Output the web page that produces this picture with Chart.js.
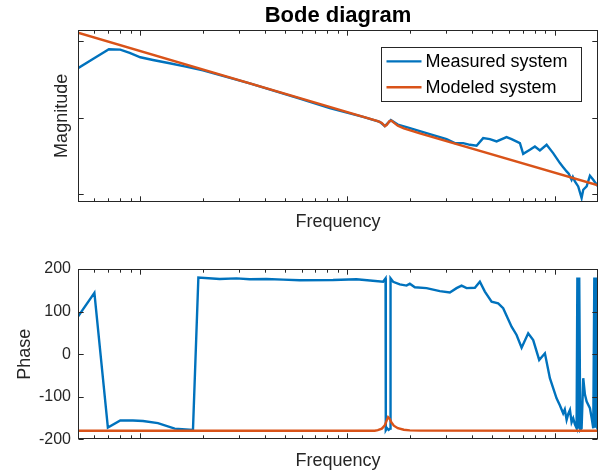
<!DOCTYPE html>
<html>
<head>
<meta charset="utf-8">
<script src="https://cdn.jsdelivr.net/npm/chart.js@4.4.1/dist/chart.umd.min.js"></script>
<style>
  html, body { margin: 0; padding: 0; background: #fff; }
  #wrap { position: relative; width: 600px; height: 472px; }
  #magCanvas { position: absolute; left: 0; top: 0; }
  #phaseCanvas { position: absolute; left: 0; top: 240px; }
</style>
</head>
<body>
<div id="wrap">
  <canvas id="magCanvas" width="600" height="240"></canvas>
  <canvas id="phaseCanvas" width="600" height="232"></canvas>
</div>
<script>
// ---------------- data ----------------
const seriesNames = ['Measured system', 'Modeled system'];
const chartTitle = 'Bode diagram';
const xLabel = 'Frequency';
const magLabel = 'Magnitude';
const phaseLabel = 'Phase';

// Measured magnitude
const magMeasFreq = [0.5, 0.601, 0.705, 0.8, 0.888, 1.0, 1.15, 1.385, 1.637, 2.006, 3.373, 5.88, 8.21, 11.9, 14.32, 15.15, 16.19, 17.5, 19.28, 24.98, 30.08, 33.0, 36.19, 39.02, 42.0, 45.2, 48.7, 52.47, 58.62, 61.98, 68.0, 70.53, 75.98, 80.33, 84.92, 91.5, 98.4, 106.1, 110.0, 114.3, 117.0, 120.8, 122.5, 125.3, 130.0, 135.0, 137.5, 142.8, 148.1, 153.7, 159.6, 162.0];
const magMeasVals = [0.4406, 0.6003, 0.7794, 0.770, 0.6975, 0.613, 0.565, 0.512, 0.465, 0.4124, 0.2792, 0.1764, 0.1326, 0.1021, 0.0879, 0.0772, 0.0925, 0.0808, 0.0749, 0.0608, 0.0523, 0.0464, 0.0464, 0.04406, 0.04276, 0.0539, 0.0523, 0.0487, 0.0555, 0.0523, 0.0464, 0.0336, 0.0379, 0.0419, 0.0371, 0.0441, 0.0343, 0.0254, 0.0225, 0.0198, 0.0185, 0.0154, 0.0168, 0.01464, 0.0126, 0.0089, 0.01141, 0.0126, 0.01738, 0.0154, 0.01326, 0.01395];

// Modeled magnitude
const magModelFreq = [0.5, 14.01, 14.65, 15.15, 15.49, 15.92, 16.28, 16.74, 17.5, 18.71, 22.36, 162.0];
const magModelVals = [1.283, 0.0897, 0.0848, 0.0772, 0.0803, 0.0892, 0.0914, 0.0858, 0.0784, 0.0723, 0.0622, 0.01306];

// Measured phase
const phaseMeasFreq = [0.5, 0.6, 0.697, 0.8, 0.921, 1.03, 1.216, 1.465, 1.795, 1.906, 2.416, 2.91, 3.373, 4.06, 4.886, 5.88, 8.52, 11.05, 14.86, 15.27, 15.31, 15.54, 15.8, 16.08, 16.14, 16.61, 17.89, 19.28, 20.0, 21.14, 24.08, 27.92, 31.21, 33.62, 35.54, 37.58, 41.21, 43.57, 46.06, 49.63, 53.41, 56.45, 61.98, 65.53, 69.29, 74.56, 78.82, 84.26, 89.77, 94.9, 102.2, 106.0, 110.0, 112.0, 114.3, 116.5, 118.6, 120.8, 123.0, 125.3, 127.7, 128.8, 129.9, 131.5, 133.0, 135.0, 137.5, 140.1, 142.8, 148.1, 151.0, 153.7, 155.5, 157.0, 158.3, 159.6, 162.0];
const phaseMeasVals = [88, 144, -172.6, -156, -156, -157, -162, -175, -178, 180, 176.6, 178, 176, 176.6, 175, 173.5, 174, 176, 170, 178, -179, -174, -178, -175, 178, 170, 164, 161, 165.5, 157, 155, 148, 145, 155, 161, 155, 156, 170, 147, 123, 119.5, 108, 64.6, 45, 15, 49, 33, -13.6, 2, -56.6, -103.6, -120, -139, -130, -154.5, -140, -131, -160, -150.5, -165, -174, 180, -175, 180, -178, -174, -56.6, -95, -111.5, -127, -150, -174, 180, -170, 180, -170, -178];

// Modeled phase
const phaseModelFreq = [0.5, 13.55, 14.01, 14.65, 15.15, 15.49, 15.71, 16.01, 16.28, 16.74, 17.5, 18.71, 20.0, 22.36, 162.0];
const phaseModelVals = [-180, -180, -178.5, -175, -167, -155, -148, -152, -160, -168, -174, -177.5, -179, -179.7, -180];

// Axis ranges and tick positions
const freqRange = [0.5, 162];
const magRange = [0.00796, 1.391];
const phaseRange = [-200, 200];
const xMajorTicks = [1, 10, 100];
const xMinorTicks = [0.6, 0.7, 0.8, 0.9, 2, 3, 4, 5, 6, 7, 8, 9, 20, 30, 40, 50, 60, 70, 80, 90];
const magTicks = [0.01, 0.1, 1];
const phaseTicks = [-200, -100, 0, 100, 200];

// ---------------- styling ----------------
const BLUE = '#0072BD';
const ORANGE = '#D95319';
const AXIS = '#262626';
const FONT = '"Liberation Sans", Arial, Helvetica, sans-serif';
Chart.defaults.font.family = FONT;

function pairs(xs, ys) { return xs.map((x, i) => ({ x: x, y: ys[i] })); }

// MATLAB-style box with inward ticks on all four sides
const matlabAxes = {
  id: 'matlabAxes',
  afterDatasetsDraw(chart, args, o) {
    const ctx = chart.ctx, a = chart.chartArea;
    const xs = chart.scales.x, ys = chart.scales.y;
    const L = Math.round(a.left) + 0.5, R = Math.round(a.right) - 0.5;
    const T = Math.round(a.top) + 0.5, B = Math.round(a.bottom) - 0.5;
    ctx.save();
    ctx.strokeStyle = AXIS;
    ctx.lineWidth = 1;
    ctx.beginPath();
    const vTick = (v, len) => {
      const p = Math.round(xs.getPixelForValue(v)) + 0.5;
      if (p < L || p > R) return;
      ctx.moveTo(p, B); ctx.lineTo(p, B - len);
      ctx.moveTo(p, T); ctx.lineTo(p, T + len);
    };
    o.xMajor.forEach(v => vTick(v, 5.2));
    o.xMinor.forEach(v => vTick(v, 3.2));
    o.yTicks.forEach(v => {
      const p = Math.round(ys.getPixelForValue(v)) + 0.5;
      ctx.moveTo(L, p); ctx.lineTo(L + 5.2, p);
      ctx.moveTo(R, p); ctx.lineTo(R - 5.2, p);
    });
    ctx.stroke();
    ctx.strokeRect(L, T, R - L, B - T);
    ctx.restore();
  }
};

// Boxed legend inside the plot area (top-right), built from the datasets
const boxLegend = {
  id: 'boxLegend',
  afterDraw(chart, args, o) {
    if (!o.display) return;
    const ctx = chart.ctx, a = chart.chartArea;
    const ds = chart.data.datasets;
    ctx.save();
    ctx.font = '18px ' + FONT;
    let maxW = 0;
    ds.forEach(d => { maxW = Math.max(maxW, ctx.measureText(d.label).width); });
    const w = o.textOffset + maxW + o.padRight;
    const h = o.rowGap * ds.length + o.padV * 2;
    const x0 = Math.round(a.right - o.insetRight - w) + 0.5;
    const y0 = Math.round(a.top + o.insetTop) + 0.5;
    ctx.fillStyle = '#fff';
    ctx.fillRect(x0, y0, w, h);
    ctx.strokeStyle = AXIS;
    ctx.lineWidth = 1;
    ctx.strokeRect(x0, y0, Math.round(w), Math.round(h));
    ds.forEach((d, i) => {
      const cy = y0 + o.padV + o.rowGap * (i + 0.5);
      ctx.strokeStyle = d.borderColor;
      ctx.lineWidth = d.borderWidth;
      ctx.beginPath();
      ctx.moveTo(x0 + o.lineStart, cy);
      ctx.lineTo(x0 + o.lineStart + o.lineLen, cy);
      ctx.stroke();
      ctx.fillStyle = '#000';
      ctx.textBaseline = 'middle';
      ctx.textAlign = 'left';
      ctx.fillText(d.label, x0 + o.textOffset, cy + 1);
    });
    ctx.restore();
  }
};

const lineDs = (label, data, color, order) => ({
  label: label, data: data, borderColor: color, backgroundColor: color,
  borderWidth: 2.4, pointRadius: 0, tension: 0, fill: false, order: order
});

const hiddenGrid = { display: false, drawTicks: false };

// ---------------- magnitude chart ----------------
new Chart(document.getElementById('magCanvas'), {
  type: 'line',
  data: {
    datasets: [
      lineDs(seriesNames[0], pairs(magMeasFreq, magMeasVals), BLUE, 1),
      lineDs(seriesNames[1], pairs(magModelFreq, magModelVals), ORANGE, 0)
    ]
  },
  options: {
    responsive: false, animation: false, events: [],
    layout: { padding: { left: 0, right: 2, top: 0, bottom: 0 } },
    plugins: {
      legend: { display: false },
      tooltip: { enabled: false },
      title: {
        display: true, text: chartTitle, fullSize: false, color: '#000',
        font: { size: 22, weight: 'bold' }, padding: { top: 3, bottom: 0.6 }
      },
      matlabAxes: { xMajor: xMajorTicks, xMinor: xMinorTicks, yTicks: magTicks },
      boxLegend: {
        display: true, insetRight: 16.6, insetTop: 17.3, padV: 1, rowGap: 25.8,
        lineStart: 5, lineLen: 35, textOffset: 44, padRight: 14
      }
    },
    scales: {
      x: {
        type: 'logarithmic', min: freqRange[0], max: freqRange[1],
        ticks: { display: false }, grid: hiddenGrid, border: { display: false },
        title: { display: true, text: xLabel, color: AXIS, font: { size: 18 }, padding: { top: 0, bottom: 6.9 } },
        afterFit(s) { s.height = 38.3; }
      },
      y: {
        type: 'logarithmic', min: magRange[0], max: magRange[1],
        ticks: { display: false }, grid: hiddenGrid, border: { display: false },
        title: { display: true, text: magLabel, color: AXIS, font: { size: 18 }, padding: { top: 51.5, bottom: 0 } },
        afterFit(s) { s.width = 78; }
      }
    }
  },
  plugins: [matlabAxes, boxLegend]
});

// ---------------- phase chart ----------------
new Chart(document.getElementById('phaseCanvas'), {
  type: 'line',
  data: {
    datasets: [
      lineDs(seriesNames[0], pairs(phaseMeasFreq, phaseMeasVals), BLUE, 1),
      lineDs(seriesNames[1], pairs(phaseModelFreq, phaseModelVals), ORANGE, 0)
    ]
  },
  options: {
    responsive: false, animation: false, events: [],
    layout: { padding: { left: 0, right: 2, top: 29, bottom: 0 } },
    plugins: {
      legend: { display: false },
      tooltip: { enabled: false },
      title: { display: false },
      matlabAxes: { xMajor: xMajorTicks, xMinor: xMinorTicks, yTicks: phaseTicks },
      boxLegend: { display: false }
    },
    scales: {
      x: {
        type: 'logarithmic', min: freqRange[0], max: freqRange[1],
        ticks: { display: false }, grid: hiddenGrid, border: { display: false },
        title: { display: true, text: xLabel, color: AXIS, font: { size: 18 }, padding: { top: 0, bottom: 0.6 } },
        afterFit(s) { s.height = 32.7; }
      },
      y: {
        type: 'linear', min: phaseRange[0], max: phaseRange[1],
        ticks: { stepSize: 100, color: AXIS, font: { size: 16 }, padding: 7 },
        grid: hiddenGrid, border: { display: false },
        title: { display: true, text: phaseLabel, color: AXIS, font: { size: 18 }, padding: { top: 14.7, bottom: 0 } },
        afterFit(s) { s.width = 78; }
      }
    }
  },
  plugins: [matlabAxes]
});
</script>
</body>
</html>
